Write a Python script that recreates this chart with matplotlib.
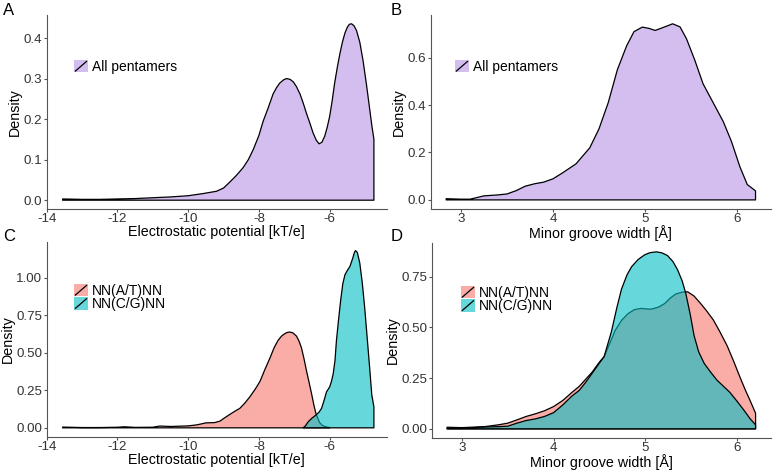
import numpy as np
import matplotlib
matplotlib.use('Agg')
import matplotlib.pyplot as plt
from matplotlib.patches import Rectangle, Patch
from matplotlib.lines import Line2D
from matplotlib.colors import to_rgba

plt.rcParams['font.family'] = ['Liberation Sans', 'DejaVu Sans']
plt.rcParams['axes.unicode_minus'] = False

W, H = 777, 473

# --- data ---
# A: electrostatic potential, all pentamers
ep_x = [-13.55, -13.0, -12.5, -12.0, -11.5, -11.0, -10.5, -10.0, -9.6, -9.2, -9.0,
        -8.82, -8.65, -8.45, -8.3, -8.16, -8.0, -7.88, -7.75, -7.6, -7.5, -7.41,
        -7.3, -7.22, -7.12, -7.03, -6.94, -6.84, -6.75, -6.66, -6.56, -6.47, -6.38,
        -6.3, -6.22, -6.14, -6.07, -6.0, -5.93, -5.86, -5.78, -5.71, -5.64, -5.57,
        -5.5, -5.44, -5.38, -5.31, -5.24, -5.15, -5.06, -4.96, -4.87, -4.81, -4.75]
ep_all = [0.003, 0.002, 0.002, 0.003, 0.004, 0.006, 0.008, 0.011, 0.016, 0.022, 0.03,
          0.045, 0.06, 0.08, 0.10, 0.125, 0.16, 0.195, 0.225, 0.262, 0.278, 0.289,
          0.297, 0.300, 0.298, 0.292, 0.28, 0.262, 0.24, 0.215, 0.19, 0.166, 0.148,
          0.139, 0.143, 0.158, 0.18, 0.207, 0.245, 0.289, 0.33, 0.362, 0.39, 0.412,
          0.427, 0.434, 0.435, 0.43, 0.418, 0.39, 0.346, 0.285, 0.225, 0.185, 0.150]

# B: minor groove width, all pentamers
mgw_x = [2.84, 3.0, 3.1, 3.25, 3.4, 3.5, 3.6, 3.7, 3.8, 3.9, 4.0, 4.1, 4.25, 4.4,
         4.5, 4.6, 4.7, 4.8, 4.88, 4.97, 5.04, 5.11, 5.2, 5.3, 5.38, 5.45, 5.54,
         5.63, 5.74, 5.85, 5.94, 6.03, 6.11, 6.2]
mgw_all = [0.005, 0.003, 0.003, 0.017, 0.021, 0.025, 0.039, 0.058, 0.068, 0.075, 0.089,
           0.113, 0.152, 0.22, 0.30, 0.41, 0.55, 0.65, 0.71, 0.729, 0.724, 0.715,
           0.728, 0.743, 0.73, 0.68, 0.59, 0.49, 0.41, 0.33, 0.245, 0.14, 0.065, 0.038]

# C: electrostatic potential by central base pair
ep_at_x = [-13.55, -13.0, -12.5, -12.0, -11.8, -11.5, -11.0, -10.8, -10.5, -10.0, -9.75,
           -9.5, -9.25, -9.1, -9.0, -8.82, -8.7, -8.54, -8.4, -8.26, -8.1, -7.97, -7.83,
           -7.69, -7.57, -7.46, -7.36, -7.27, -7.2, -7.13, -7.04, -6.94, -6.87, -6.8,
           -6.73, -6.66, -6.58, -6.51, -6.45, -6.39, -6.33, -6.28, -6.2, -6.09, -6.0]
ep_at = [0.005, 0.002, 0.002, 0.004, 0.007, 0.003, 0.004, 0.012, 0.009, 0.013, 0.02,
         0.033, 0.035, 0.045, 0.062, 0.09, 0.108, 0.13, 0.165, 0.206, 0.26, 0.31, 0.39,
         0.465, 0.535, 0.583, 0.612, 0.628, 0.636, 0.639, 0.633, 0.612, 0.58, 0.535,
         0.465, 0.385, 0.30, 0.225, 0.155, 0.096, 0.06, 0.033, 0.015, 0.006, 0.002]
ep_cg_x = [-6.75, -6.68, -6.61, -6.5, -6.39, -6.3, -6.23, -6.15, -6.09, -6.0, -5.95,
           -5.9, -5.85, -5.81, -5.75, -5.69, -5.63, -5.57, -5.5, -5.43, -5.35, -5.3,
           -5.27, -5.22, -5.15, -5.08, -5.01, -4.94, -4.87, -4.81, -4.75]
ep_cg = [0.0, 0.015, 0.04, 0.065, 0.085, 0.105, 0.13, 0.19, 0.24, 0.273, 0.31,
         0.362, 0.45, 0.58, 0.72, 0.85, 0.96, 1.02, 1.05, 1.075, 1.13, 1.17,
         1.182, 1.17, 1.10, 0.97, 0.80, 0.60, 0.40, 0.22, 0.14]

# D: minor groove width by central base pair
mgw_at_x = [2.84, 3.0, 3.25, 3.4, 3.5, 3.6, 3.7, 3.8, 3.9, 4.0, 4.1, 4.2, 4.28, 4.35,
            4.42, 4.5, 4.55, 4.61, 4.67, 4.74, 4.81, 4.88, 4.95, 5.06, 5.14, 5.21, 5.27,
            5.33, 5.4, 5.46, 5.53, 5.6, 5.67, 5.74, 5.81, 5.89, 5.96, 6.03, 6.09, 6.14, 6.2]
mgw_at = [0.008, 0.006, 0.011, 0.02, 0.028, 0.044, 0.061, 0.074, 0.089, 0.11, 0.14,
          0.18, 0.21, 0.245, 0.28, 0.33, 0.356, 0.42, 0.485, 0.535, 0.568, 0.588, 0.594,
          0.59, 0.60, 0.618, 0.645, 0.665, 0.674, 0.676, 0.655, 0.619, 0.58, 0.537, 0.48,
          0.41, 0.335, 0.255, 0.19, 0.14, 0.077]
mgw_cg_x = [2.84, 3.0, 3.25, 3.4, 3.5, 3.6, 3.7, 3.8, 3.9, 4.0, 4.1, 4.2, 4.28, 4.35,
            4.42, 4.5, 4.55, 4.63, 4.69, 4.74, 4.8, 4.85, 4.92, 4.99, 5.05, 5.12, 5.18,
            5.24, 5.3, 5.35, 5.4, 5.44, 5.49, 5.53, 5.58, 5.64, 5.71, 5.78, 5.85, 5.92,
            6.0, 6.07, 6.14, 6.2]
mgw_cg = [0.003, 0.003, 0.009, 0.011, 0.013, 0.028, 0.041, 0.049, 0.061, 0.08, 0.118,
          0.162, 0.19, 0.23, 0.274, 0.325, 0.356, 0.48, 0.60, 0.69, 0.76, 0.80, 0.835,
          0.858, 0.869, 0.873, 0.868, 0.855, 0.825, 0.785, 0.73, 0.668, 0.56, 0.46, 0.38,
          0.323, 0.28, 0.24, 0.21, 0.18, 0.135, 0.094, 0.05, 0.02]

ep_ticks = [-14, -12, -10, -8, -6]
mgw_ticks = [3, 4, 5, 6]

purple = '#d3beef'
pink = to_rgba('#F8766D', 0.6)
teal = to_rgba('#00BFC4', 0.6)


class SlashKey:
    def legend_artist(self, legend, orig_handle, fontsize, handlebox):
        x0, y0 = -handlebox.xdescent, -handlebox.ydescent
        w, h = handlebox.width, handlebox.height
        tr = handlebox.get_transform()
        rect = Rectangle((x0, y0), w, h, facecolor=orig_handle.get_facecolor(),
                         edgecolor='none', transform=tr)
        ln = Line2D([x0 + 1, x0 + w - 1], [y0 + 1, y0 + h - 1], color='black', lw=0.9,
                    transform=tr)
        handlebox.add_artist(rect)
        handlebox.add_artist(ln)
        return rect


def density(ax, x, y, color):
    x = np.asarray(x)
    y = np.asarray(y)
    ax.fill(np.r_[x, x[-1], x[0]], np.r_[y, 0, 0], facecolor=color,
            edgecolor='black', lw=0.9, joinstyle='round')


def style(ax, ticks, xlabel, ymax):
    for s in ['top', 'right']:
        ax.spines[s].set_visible(False)
    for s in ['left', 'bottom']:
        ax.spines[s].set_color('#555555')
        ax.spines[s].set_linewidth(0.8)
    ax.set_xticks(ticks)
    ax.tick_params(length=2.2, width=0.8, color='#555555', labelcolor='#333333',
                   labelsize=9.6, pad=1)
    ax.set_xlabel(xlabel, fontsize=10.3, labelpad=0)
    ax.set_ylabel('Density', fontsize=10.3, labelpad=1)
    ax.set_ylim(-ymax * 0.05, ymax * 1.05)


def add_ax(l, t, r, b):
    return fig.add_axes([l / W, 1 - b / H, (r - l) / W, (b - t) / H])


def xrange(ax, lo, hi):
    pad = (hi - lo) * 0.05
    ax.set_xlim(lo - pad, hi + pad)


fig = plt.figure(figsize=(W / 100, H / 100), dpi=100)

# A
axA = add_ax(46.7, 15, 387, 209)
density(axA, ep_x, ep_all, purple)
style(axA, ep_ticks, 'Electrostatic potential [kT/e]', max(ep_all))
axA.set_xlim(-14.0, -4.38)
axA.set_yticks([0.0, 0.1, 0.2, 0.3, 0.4])

# B
axB = add_ax(430.7, 15, 771, 208.7)
density(axB, mgw_x, mgw_all, purple)
style(axB, mgw_ticks, 'Minor groove width [Å]', max(mgw_all))
xrange(axB, min(mgw_x), max(mgw_x))
axB.set_yticks([0.0, 0.2, 0.4, 0.6])

# C
axC = add_ax(46.7, 241.7, 387, 436.7)
density(axC, ep_at_x, ep_at, pink)
density(axC, ep_cg_x, ep_cg, teal)
style(axC, ep_ticks, 'Electrostatic potential [kT/e]', max(ep_cg))
axC.set_xlim(-14.0, -4.38)
axC.set_yticks([0.0, 0.25, 0.5, 0.75, 1.0])
axC.set_yticklabels(['0.00', '0.25', '0.50', '0.75', '1.00'])

# D
axD = add_ax(431.7, 243, 771, 437.7)
density(axD, mgw_at_x, mgw_at, pink)
density(axD, mgw_cg_x, mgw_cg, teal)
style(axD, mgw_ticks, 'Minor groove width [Å]', max(mgw_cg))
xrange(axD, min(mgw_at_x), max(mgw_at_x))
axD.set_yticks([0.0, 0.25, 0.5, 0.75])
axD.set_yticklabels(['0.00', '0.25', '0.50', '0.75'])


def legend(ax, labels, colors, x, y):
    handles = [Patch(facecolor=c) for c in colors]
    ax.legend(handles, labels, handler_map={Patch: SlashKey()}, frameon=False,
              loc='upper left', bbox_to_anchor=(x / W, 1 - y / H),
              bbox_transform=fig.transFigure, borderpad=0, borderaxespad=0,
              handlelength=1.0, handleheight=1.0, handletextpad=0.3,
              labelspacing=-0.05, fontsize=10)


legend(axA, ['All pentamers'], [purple], 74, 60)
legend(axB, ['All pentamers'], [purple], 455, 60)
legend(axC, ['NN(A/T)NN', 'NN(C/G)NN'], [pink, teal], 74, 284)
legend(axD, ['NN(A/T)NN', 'NN(C/G)NN'], [pink, teal], 461, 286)

for lab, x, y in [('A', 3, 3), ('B', 391, 3), ('C', 3, 229), ('D', 391, 229)]:
    fig.text(x / W, 1 - y / H, lab, fontsize=12, va='top', ha='left')

fig.savefig('out.png', dpi=100)
